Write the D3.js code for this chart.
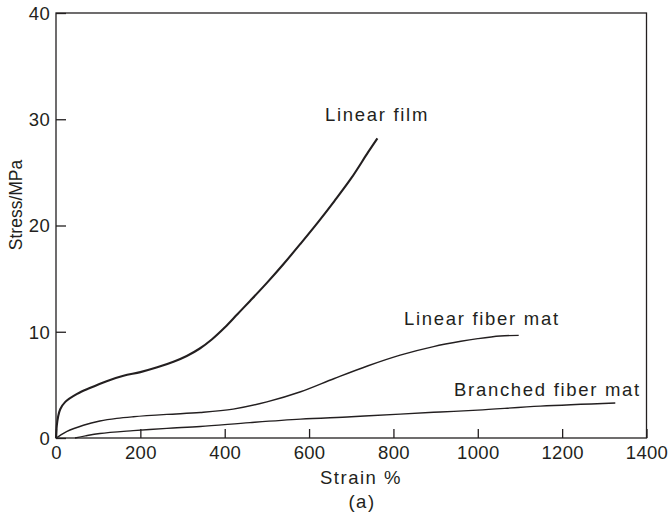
<!DOCTYPE html>
<html>
<head>
<meta charset="utf-8">
<script src="https://cdn.jsdelivr.net/npm/d3@7"></script>
<style>
  html, body { margin: 0; padding: 0; background: #fff; }
  svg { display: block; }
  text { font-family: "Liberation Sans", Arial, sans-serif; fill: #231f20; }
</style>
</head>
<body>
<svg id="chart" width="669" height="514"></svg>
<script>
// Stress–strain curves (strain in %, stress in MPa)
const linearFilm = [
  [0, 0], [2, 1.2], [5, 2.0], [10, 2.7], [22, 3.4], [50, 4.15], [80, 4.7],
  [120, 5.35], [160, 5.85], [200, 6.2], [240, 6.65], [280, 7.2], [310, 7.72],
  [340, 8.4], [370, 9.3], [400, 10.4], [430, 11.65], [460, 12.9],
  [500, 14.6], [540, 16.4], [580, 18.3], [620, 20.25], [660, 22.3], [700, 24.45],
  [740, 26.9], [762, 28.2]
];
const linearFiberMat = [
  [0, 0], [10, 0.25], [25, 0.6], [65, 1.2], [104, 1.6], [144, 1.85], [183, 2.0],
  [263, 2.22], [342, 2.4], [420, 2.72], [500, 3.4], [580, 4.35], [660, 5.6],
  [740, 6.8], [816, 7.8], [895, 8.6], [960, 9.1], [1000, 9.35], [1053, 9.6],
  [1097, 9.66]
];
const branchedFiberMat = [
  [45, 0], [70, 0.2], [104, 0.42], [183, 0.69], [263, 0.91], [342, 1.08],
  [460, 1.45], [580, 1.78], [700, 2.0], [816, 2.25], [911, 2.45], [1000, 2.62],
  [1148, 3.0], [1326, 3.3]
];
const xTicks = [0, 200, 400, 600, 800, 1000, 1200, 1400];
const yTicks = [0, 10, 20, 30, 40];
const seriesNames = ["Linear film", "Linear fiber mat", "Branched fiber mat"];

const svg = d3.select("#chart");
const plotLeft = 56, plotRight = 646.5, plotTop = 13, plotBottom = 438;
const ink = "#231f20";

const x = d3.scaleLinear().domain([0, 1400]).range([plotLeft, plotRight]);
const y = d3.scaleLinear().domain([0, 40]).range([plotBottom, plotTop]);

// frame
svg.append("rect")
  .attr("x", plotLeft).attr("y", plotTop)
  .attr("width", plotRight - plotLeft).attr("height", plotBottom - plotTop)
  .attr("fill", "none").attr("stroke", ink).attr("stroke-width", 1.3);

// x axis: ticks point inward
const xAxis = d3.axisBottom(x).tickValues(xTicks).tickFormat(d3.format("d"))
  .tickSizeInner(-9).tickSizeOuter(0);
const gx = svg.append("g").attr("transform", `translate(0,${plotBottom})`).call(xAxis);
gx.select(".domain").remove();
gx.selectAll(".tick line").attr("stroke", ink).attr("stroke-width", 1.3);
gx.selectAll(".tick text")
  .attr("font-size", 18.5).attr("font-family", "Liberation Sans, Arial, sans-serif")
  .attr("fill", ink).attr("y", 20.5).attr("dy", 0)
  .attr("letter-spacing", "0.3px");

// y axis: ticks point inward
const yAxis = d3.axisLeft(y).tickValues(yTicks).tickFormat(d3.format("d"))
  .tickSizeInner(-10).tickSizeOuter(0);
const gy = svg.append("g").attr("transform", `translate(${plotLeft},0)`).call(yAxis);
gy.select(".domain").remove();
gy.selectAll(".tick line").attr("stroke", ink).attr("stroke-width", 1.3);
gy.selectAll(".tick text")
  .attr("font-size", 18.5).attr("font-family", "Liberation Sans, Arial, sans-serif")
  .attr("fill", ink).attr("x", -6).attr("dy", "0.35em")
  .attr("letter-spacing", "0.3px");

// axis titles
svg.append("text").attr("x", 361).attr("y", 484)
  .attr("text-anchor", "middle").attr("font-size", 18.5).attr("letter-spacing", "1.5px")
  .text("Strain %");
svg.append("text").attr("x", 362).attr("y", 508)
  .attr("text-anchor", "middle").attr("font-size", 18.5).attr("letter-spacing", "1.5px")
  .text("(a)");
svg.append("text")
  .attr("transform", "translate(22,205) rotate(-90)")
  .attr("text-anchor", "middle").attr("font-size", 17.5)
  .text("Stress/MPa");

// curves
const line = d3.line()
  .x(d => x(d[0])).y(d => y(d[1]))
  .curve(d3.curveCatmullRom.alpha(0.5));

const curves = [
  { data: linearFilm, width: 2.1 },
  { data: linearFiberMat, width: 1.4 },
  { data: branchedFiberMat, width: 1.4 }
];
svg.selectAll("path.curve").data(curves).enter().append("path")
  .attr("class", "curve")
  .attr("d", d => line(d.data))
  .attr("fill", "none").attr("stroke", ink)
  .attr("stroke-width", d => d.width)
  .attr("stroke-linejoin", "round");

// curve labels
const labelPos = [
  { x: 325, y: 121 },
  { x: 404, y: 325 },
  { x: 454, y: 396 }
];
svg.selectAll("text.series").data(seriesNames).enter().append("text")
  .attr("class", "series")
  .attr("x", (d, i) => labelPos[i].x).attr("y", (d, i) => labelPos[i].y)
  .attr("font-size", 18.5).attr("letter-spacing", "1.7px")
  .text(d => d);
</script>
</body>
</html>
